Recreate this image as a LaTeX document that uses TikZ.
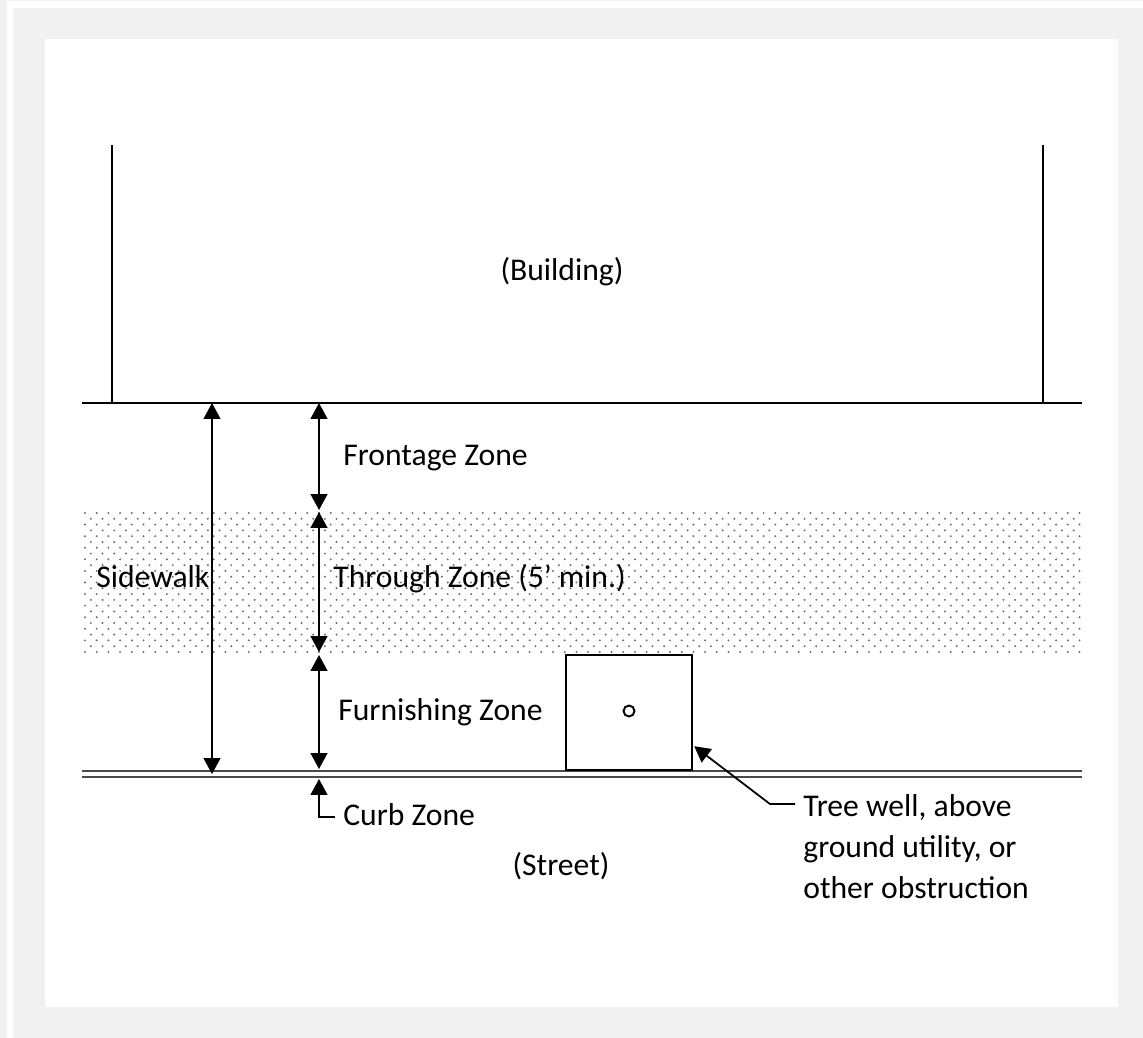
\documentclass[tikz,border=0pt]{standalone}
\usepackage{fontspec}
\setmainfont{Carlito}
\usepackage{xcolor}
\usetikzlibrary{arrows.meta,positioning,calc}
\definecolor{pagegray}{HTML}{F1F1F1}
\definecolor{dotgray}{HTML}{6E6E6E}
\definecolor{curbgray}{HTML}{4A4A4A}

\begin{document}
\begin{tikzpicture}[
    x=0.02cm, y=-0.02cm,
    wall/.style={line width=1.4pt},
    curb/.style={line width=1pt, draw=curbgray},
    dimarrow/.style={line width=1pt, {Triangle[length=9pt,width=9.5pt]}-{Triangle[length=9pt,width=9.5pt]}},
    leader/.style={line width=1pt, -{Triangle[length=9pt,width=9.5pt]}},
    label/.style={font=\fontsize{18}{23.3}\selectfont, inner sep=0pt},
    treebox/.style={draw, line width=1.4pt, minimum width=2.52cm, minimum height=2.3cm, inner sep=0pt}
]

% Page and frame
\fill[pagegray] (0,0) rectangle (1143,1038);
\useasboundingbox (0,0) rectangle (1143,1038);
\fill[white] (7,1) rectangle (1143,1038);
\fill[pagegray] (13,8) rectangle (1143,1038);
\fill[white] (45,39) rectangle (1118,1007);

% Through zone dots
\foreach \r in {0,...,24}{
  \pgfmathsetmacro{\yy}{513+\r*5.79}
  \pgfmathsetmacro{\xo}{mod(\r,2)*5.85}
  \pgfmathtruncatemacro{\nc}{85-mod(\r,2)}
  \foreach \c in {0,...,\nc}
    \fill[dotgray] ({85+\xo+\c*11.7},\yy) circle (1.1);
}

% Building
\draw[wall] (112,145) -- (112,403);
\draw[wall] (1043,145) -- (1043,403);
\draw[wall] (82,403) -- (1082,403);
\node[label] (bldg) at (562,272) {(Building)};

% Curb
\draw[curb] (82,771) -- (1082,771);
\draw[curb] (82,777) -- (1082,777);
\node[label] (street) at (561,866) {(Street)};

% Boundaries
\coordinate (sw-top) at (212,403);
\coordinate (sw-bot) at (212,774);
\coordinate (fz-top) at (319,403);
\coordinate (fz-bot) at (319,510);
\coordinate (tz-top) at (319,512);
\coordinate (tz-bot) at (319,652);
\coordinate (ff-top) at (319,655);
\coordinate (ff-bot) at (319,769);
\coordinate (cz-tip) at (319,779);
\coordinate (cz-end) at (335,817);

% Dimension arrows
\draw[dimarrow] (sw-top) -- (sw-bot);
\draw[dimarrow] (fz-top) -- (fz-bot);
\draw[dimarrow] (tz-top) -- (tz-bot);
\draw[dimarrow] (ff-top) -- (ff-bot);
\draw[leader] (cz-end) -| (cz-tip);

% Zone labels
\node[label, anchor=base west] (sidewalk) at (96,587) {Sidewalk};
\node[label, anchor=base west] (frontage) at (343,465) {Frontage Zone};
\node[label, anchor=base west] (through) at (333,587) {Through Zone (5’ min.)};
\node[label, anchor=base west] (furnish) at (338,720) {Furnishing Zone};
\node[label, anchor=base west] (curbzone) at (343,825) {Curb Zone};

% Tree well
\node[treebox] (tree) at (629,712.5) {};
\draw[line width=1.1pt] (629,711) circle (5.5);
\node[label, anchor=base west, align=left] (treenote) at (803,898)
  {Tree well, above\\ground utility, or\\other obstruction};
\coordinate (kink) at (770,804);
\draw[leader] ($(kink)+(25,0)$) -- (kink) -- ($(tree.south east)+(1,-25)$);

\end{tikzpicture}
\end{document}
